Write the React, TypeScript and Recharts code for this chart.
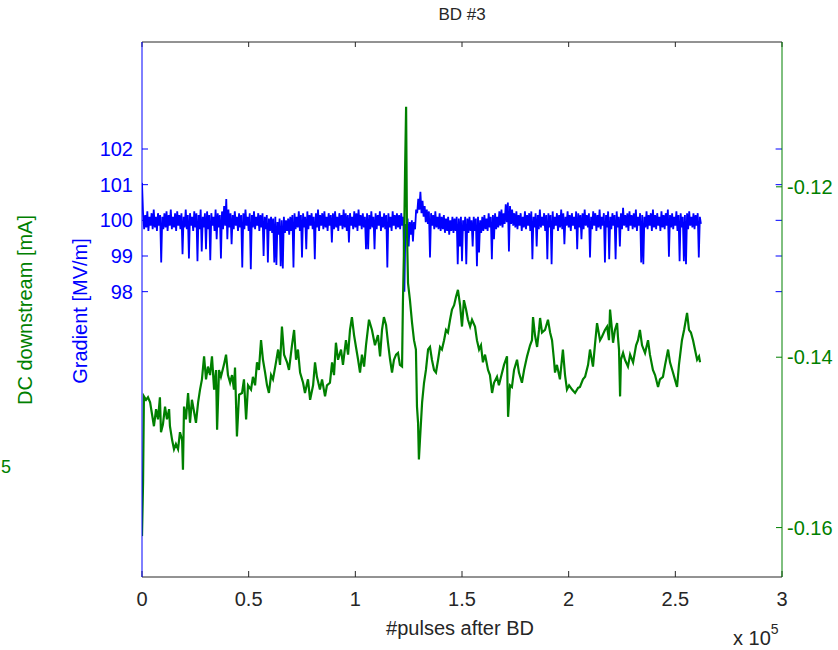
import { LineChart, Line, XAxis, YAxis, Label, ReferenceLine } from "recharts";

const FONT = "'Liberation Sans', Arial, Helvetica, sans-serif";
const INK = "#262626";
const BLUE = "#0000ff";
const GREEN = "#008000";

// x axis in units of 1e5 pulses
const xTicks = [0, 0.5, 1, 1.5, 2, 2.5, 3];
const gradientTicks = [98, 99, 100, 101, 102];
const currentTicks = [-0.16, -0.14, -0.12];

// gradient [MV/m], one sample every 0.005e5 pulses (20 per row = 0.1e5)
const BLUE_DX = 0.005;
const gradient = [
  101.05, 100.2, 99.75, 100.15, 99.8, 100.25, 99.7, 100.1, 99.85, 100.2, 99.75, 100.3, 99.8, 100.1, 99.7, 100.2, 99.85, 100.15, 98.82, 100.1,
  99.75, 100.2, 99.8, 100.25, 99.7, 100.15, 99.85, 100.3, 99.75, 100.1, 99.8, 100.2, 99.7, 100.25, 99.85, 100.15, 99.75, 100.2, 99.05, 100.1,
  99.8, 100.3, 99.75, 100.15, 98.93, 100.2, 99.85, 100.1, 99.7, 100.25, 99.8, 100.2, 98.85, 100.15, 99.75, 100.3, 99.13, 100.1, 99.8, 100.2,
  99.19, 100.25, 99.75, 100.15, 98.88, 100.2, 99.85, 100.1, 99.7, 100.3, 99.47, 100.2, 99.8, 100.15, 98.93, 100.25, 99.75, 100.4, 99.85, 100.6,
  99.47, 100.3, 99.8, 100.2, 99.33, 100.15, 99.75, 100.25, 99.85, 100.1, 99.7, 100.2, 99.8, 100.15, 98.68, 100.2, 99.75, 100.3, 99.85, 100.1,
  99.7, 100.2, 98.63, 100.15, 99.8, 100.25, 99.75, 100.1, 99.85, 100.2, 99.7, 100.15, 99.8, 100.2, 99.0, 100.1, 99.75, 100.15, 98.82, 100.05,
  99.7, 100.1, 99.65, 100.05, 98.82, 100.1, 98.75, 99.95, 99.6, 100.05, 98.71, 100.0, 98.65, 100.1, 99.65, 100.0, 99.7, 100.05, 99.6, 100.1,
  99.7, 100.15, 98.68, 100.2, 99.75, 100.1, 99.8, 100.25, 99.7, 100.15, 98.96, 100.2, 99.8, 100.1, 99.19, 100.25, 99.75, 100.15, 99.85, 100.2,
  99.75, 100.1, 98.91, 100.2, 99.8, 100.3, 99.7, 100.15, 99.85, 100.2, 99.75, 100.25, 99.8, 100.1, 99.7, 100.2, 99.85, 100.15, 99.38, 100.2,
  99.75, 100.25, 99.8, 100.1, 99.7, 100.2, 99.85, 100.15, 99.75, 100.3, 99.8, 100.2, 99.7, 100.15, 99.38, 100.2, 99.85, 100.1, 99.75, 100.25,
  99.8, 100.2, 99.7, 100.3, 99.85, 100.15, 99.75, 100.2, 99.8, 100.1, 99.19, 100.2, 99.19, 100.15, 99.75, 100.25, 99.8, 100.1, 99.19, 100.2,
  99.75, 100.15, 99.85, 100.25, 99.7, 100.1, 99.8, 100.2, 99.75, 100.15, 98.68, 100.2, 99.8, 100.1, 99.7, 100.25, 99.85, 100.15, 99.75, 100.2,
  99.8, 100.15, 99.75, 100.2, 99.85, 100.1, 98.0, 99.9, 99.7, 100.05, 99.27, 99.95, 99.6, 100.0, 99.41, 99.95, 99.75, 100.3, 100.2, 100.6,
  100.3, 100.8, 100.2, 100.55, 100.1, 100.4, 99.95, 100.3, 99.9, 100.25, 98.96, 100.2, 99.85, 100.15, 99.75, 100.25, 99.8, 100.1, 99.75, 100.2,
  99.7, 100.1, 99.75, 100.15, 99.65, 100.05, 99.7, 100.1, 99.6, 100.0, 99.7, 100.1, 99.65, 100.05, 99.7, 100.1, 98.77, 100.05, 99.27, 100.1,
  98.85, 100.0, 99.7, 100.1, 98.77, 100.05, 99.65, 100.1, 99.7, 100.0, 99.27, 100.1, 99.7, 100.05, 98.71, 100.1, 99.1, 100.0, 99.65, 100.1,
  99.7, 100.15, 99.75, 100.05, 99.7, 100.2, 99.8, 100.1, 98.91, 100.15, 99.47, 100.2, 99.75, 100.1, 99.8, 100.25, 99.85, 100.3, 99.8, 100.2,
  99.9, 100.45, 99.95, 100.5, 99.13, 100.4, 99.9, 100.3, 99.85, 100.2, 99.8, 100.25, 99.75, 100.15, 99.85, 100.2, 99.7, 100.1, 99.8, 100.25,
  99.75, 100.15, 99.85, 100.2, 99.7, 100.25, 98.91, 100.1, 99.8, 100.2, 99.27, 100.15, 99.75, 100.3, 99.8, 100.1, 99.85, 100.2, 99.7, 100.15,
  98.91, 100.2, 99.8, 100.15, 98.77, 100.25, 99.75, 100.1, 99.85, 100.2, 99.7, 100.15, 99.8, 100.3, 99.75, 100.2, 99.33, 100.1, 99.85, 100.25,
  99.8, 100.15, 99.7, 100.2, 99.85, 100.1, 99.75, 100.25, 99.19, 100.2, 99.8, 100.15, 99.47, 100.2, 99.75, 100.3, 99.85, 100.15, 99.8, 100.2,
  98.96, 100.1, 99.75, 100.25, 99.85, 100.2, 99.7, 100.15, 99.8, 100.3, 99.75, 100.1, 99.85, 100.2, 98.82, 100.15, 99.8, 100.25, 98.91, 100.1,
  99.75, 100.2, 99.85, 100.15, 98.91, 100.25, 99.8, 100.1, 99.27, 100.2, 99.75, 100.35, 99.85, 100.15, 99.8, 100.2, 99.7, 100.25, 99.85, 100.15,
  99.75, 100.2, 99.8, 100.3, 99.7, 100.1, 99.85, 100.2, 98.82, 100.15, 98.77, 100.1, 99.8, 100.25, 99.75, 100.15, 99.85, 100.2, 99.7, 100.3,
  99.8, 100.15, 99.75, 100.2, 99.85, 100.1, 99.7, 100.25, 99.8, 100.15, 99.75, 100.2, 99.85, 100.3, 98.98, 100.15, 99.8, 100.2, 99.75, 100.1,
  99.85, 100.25, 99.7, 100.15, 98.85, 100.2, 99.8, 100.1, 98.85, 100.15, 98.77, 100.2, 99.75, 100.25, 99.85, 100.1, 99.8, 100.2, 99.75, 100.15,
  99.85, 100.2, 98.96, 100.1, 99.9,
];

// DC downstream [mA]
const currentX = [
  0, 0.005, 0.009, 0.019, 0.028, 0.038, 0.047, 0.056, 0.066, 0.075,
  0.084, 0.089, 0.098, 0.108, 0.117, 0.127, 0.131, 0.141, 0.15, 0.159,
  0.169, 0.178, 0.188, 0.192, 0.197, 0.206, 0.216, 0.225, 0.234, 0.244,
  0.253, 0.263, 0.272, 0.281, 0.291, 0.3, 0.309, 0.319, 0.328, 0.338,
  0.347, 0.352, 0.361, 0.37, 0.384, 0.394, 0.403, 0.413, 0.422, 0.431,
  0.436, 0.445, 0.455, 0.469, 0.478, 0.488, 0.497, 0.511, 0.52, 0.53,
  0.539, 0.548, 0.558, 0.567, 0.577, 0.586, 0.595, 0.605, 0.614, 0.628,
  0.638, 0.647, 0.656, 0.666, 0.68, 0.689, 0.703, 0.713, 0.722, 0.731,
  0.741, 0.755, 0.764, 0.778, 0.788, 0.802, 0.811, 0.82, 0.834, 0.844,
  0.858, 0.867, 0.881, 0.891, 0.9, 0.909, 0.919, 0.933, 0.942, 0.956,
  0.966, 0.975, 0.984, 0.994, 1.003, 1.013, 1.022, 1.031, 1.041, 1.05,
  1.064, 1.078, 1.092, 1.106, 1.116, 1.125, 1.134, 1.144, 1.153, 1.163,
  1.172, 1.181, 1.191, 1.2, 1.209, 1.219, 1.223, 1.228, 1.233, 1.238,
  1.242, 1.247, 1.256, 1.266, 1.275, 1.284, 1.289, 1.294, 1.298, 1.303,
  1.313, 1.322, 1.331, 1.341, 1.35, 1.359, 1.369, 1.378, 1.388, 1.397,
  1.406, 1.416, 1.425, 1.434, 1.444, 1.453, 1.463, 1.472, 1.481, 1.491,
  1.5, 1.509, 1.519, 1.528, 1.538, 1.547, 1.561, 1.57, 1.58, 1.589,
  1.598, 1.608, 1.622, 1.631, 1.641, 1.65, 1.664, 1.673, 1.688, 1.697,
  1.711, 1.716, 1.725, 1.734, 1.744, 1.758, 1.767, 1.781, 1.791, 1.805,
  1.819, 1.828, 1.833, 1.842, 1.852, 1.861, 1.866, 1.875, 1.889, 1.903,
  1.913, 1.922, 1.931, 1.936, 1.945, 1.959, 1.973, 1.983, 1.992, 2.002,
  2.016, 2.03, 2.044, 2.053, 2.067, 2.077, 2.091, 2.1, 2.114, 2.123,
  2.133, 2.147, 2.156, 2.17, 2.18, 2.189, 2.194, 2.203, 2.208, 2.217,
  2.227, 2.231, 2.236, 2.241, 2.245, 2.255, 2.264, 2.278, 2.288, 2.302,
  2.316, 2.325, 2.334, 2.344, 2.358, 2.372, 2.381, 2.395, 2.405, 2.419,
  2.428, 2.442, 2.452, 2.466, 2.475, 2.489, 2.498, 2.508, 2.517, 2.531,
  2.541, 2.555, 2.564, 2.573, 2.583, 2.592, 2.602, 2.611, 2.616,
];
const currentV = [
  -0.161, -0.1547, -0.1446, -0.145, -0.1447, -0.1453, -0.1467, -0.1481, -0.1461, -0.1473,
  -0.1447, -0.1488, -0.1479, -0.1458, -0.1473, -0.1461, -0.1481, -0.1497, -0.1508, -0.1502,
  -0.1508, -0.1488, -0.1497, -0.1532, -0.1458, -0.1473, -0.1442, -0.1477, -0.145, -0.1464,
  -0.1477, -0.1453, -0.1438, -0.1426, -0.1399, -0.1426, -0.1411, -0.1421, -0.1399, -0.1438,
  -0.1415, -0.1485, -0.1415, -0.1423, -0.1409, -0.1397, -0.1421, -0.143, -0.1421, -0.1438,
  -0.1412, -0.1493, -0.1444, -0.1442, -0.1426, -0.1473, -0.1433, -0.1438, -0.1423, -0.1433,
  -0.1406, -0.1415, -0.138, -0.1403, -0.1418, -0.1433, -0.1442, -0.1421, -0.1426, -0.1406,
  -0.1391, -0.1409, -0.1364, -0.1397, -0.1406, -0.1415, -0.1386, -0.1368, -0.1403, -0.1391,
  -0.1418, -0.143, -0.1442, -0.1426, -0.145, -0.1433, -0.1406, -0.1423, -0.1438, -0.1426,
  -0.1446, -0.1433, -0.143, -0.1406, -0.1421, -0.1383, -0.1403, -0.1391, -0.1409, -0.138,
  -0.1397, -0.1368, -0.1353, -0.1374, -0.1388, -0.1403, -0.1418, -0.1397, -0.1411, -0.1386,
  -0.1356, -0.1368, -0.1386, -0.1374, -0.1399, -0.1368, -0.1353, -0.1362, -0.1383, -0.1403,
  -0.1418, -0.1403, -0.1397, -0.1395, -0.1409, -0.1411, -0.1336, -0.1274, -0.1184, -0.1106,
  -0.1251, -0.1313, -0.1333, -0.136, -0.138, -0.1391, -0.1458, -0.1477, -0.152, -0.1497,
  -0.1453, -0.143, -0.1415, -0.1391, -0.1388, -0.1403, -0.1415, -0.1418, -0.1403, -0.1388,
  -0.1391, -0.138, -0.1368, -0.1371, -0.1356, -0.1344, -0.1339, -0.1329, -0.1321, -0.1339,
  -0.1364, -0.1333, -0.1344, -0.1356, -0.1364, -0.1356, -0.1364, -0.138, -0.1391, -0.1386,
  -0.1406, -0.1397, -0.1415, -0.1421, -0.1442, -0.143, -0.1423, -0.1433, -0.1418, -0.1409,
  -0.1399, -0.147, -0.1433, -0.1435, -0.1415, -0.1403, -0.1418, -0.143, -0.1415, -0.1399,
  -0.1386, -0.138, -0.1353, -0.1374, -0.1388, -0.1368, -0.1354, -0.1371, -0.1368, -0.1356,
  -0.1371, -0.138, -0.1403, -0.1418, -0.1409, -0.1426, -0.1391, -0.1421, -0.1438, -0.1433,
  -0.1438, -0.1442, -0.1436, -0.1435, -0.1426, -0.1423, -0.1409, -0.1391, -0.1411, -0.1386,
  -0.136, -0.138, -0.1376, -0.1368, -0.1364, -0.138, -0.1344, -0.1368, -0.1383, -0.1368,
  -0.136, -0.1376, -0.1391, -0.1446, -0.1403, -0.1395, -0.1403, -0.1411, -0.1397, -0.1406,
  -0.1386, -0.138, -0.1368, -0.1386, -0.1395, -0.138, -0.1397, -0.1415, -0.1421, -0.1435,
  -0.1426, -0.1423, -0.1409, -0.1391, -0.1406, -0.1418, -0.1426, -0.1435, -0.1409, -0.138,
  -0.1368, -0.1348, -0.1368, -0.1371, -0.138, -0.1391, -0.1403, -0.1399, -0.1406,
];

const textStyle = { fontFamily: FONT, fontSize: 20 };

export default function App() {
  const gradientData = gradient.map((v, i) => ({ x: Math.round(i * BLUE_DX * 1000) / 1000, v }));
  const currentData = currentX.map((x, i) => ({ x, v: currentV[i] }));

  return (
    <div style={{ position: "absolute", left: 0, top: 0, width: 838, height: 650, background: "#fff" }}>
      <LineChart width={838} height={650} margin={{ top: 12, right: 0, bottom: 0, left: 0 }}>
        <XAxis
          xAxisId="bottom"
          dataKey="x"
          type="number"
          domain={[0, 3]}
          ticks={xTicks}
          interval={0}
          allowDataOverflow
          height={73}
          stroke={INK}
          tickSize={-6}
          tickMargin={21}
          tick={{ fill: INK, fontSize: 20, fontFamily: FONT }}
          tickFormatter={(v) => String(v)}
        >
          <Label
            content={() => (
              <g>
                <text x={460} y={635} textAnchor="middle" fill={INK} style={textStyle}>
                  #pulses after BD
                </text>
                <text x={733} y={645} fill={INK} style={textStyle}>
                  x 10
                  <tspan dy={-11} style={{ fontSize: 14 }}>5</tspan>
                </text>
              </g>
            )}
          />
        </XAxis>
        <XAxis
          xAxisId="top"
          orientation="top"
          dataKey="x"
          type="number"
          domain={[0, 3]}
          ticks={xTicks}
          interval={0}
          allowDataOverflow
          height={30}
          stroke={INK}
          tickSize={-5}
          tickFormatter={() => ""}
        >
          <Label
            content={() => (
              <text x={462} y={20} textAnchor="middle" fill={INK} style={{ ...textStyle, fontSize: 17 }}>
                BD #3
              </text>
            )}
          />
        </XAxis>
        <YAxis
          yAxisId="left"
          type="number"
          domain={[90, 105]}
          ticks={gradientTicks}
          interval={0}
          allowDataOverflow
          width={142}
          stroke={BLUE}
          tickSize={-6}
          tickMargin={15}
          tick={{ fill: BLUE, fontSize: 20, fontFamily: FONT }}
        >
          <Label
            content={() => (
              <g>
                <text
                  x={32}
                  y={310}
                  textAnchor="middle"
                  fill={GREEN}
                  transform="rotate(-90 32 310)"
                  style={textStyle}
                >
                  DC downstream [mA]
                </text>
                <text
                  x={87}
                  y={311}
                  textAnchor="middle"
                  fill={BLUE}
                  transform="rotate(-90 87 311)"
                  style={textStyle}
                >
                  Gradient [MV/m]
                </text>
                <text x={1} y={473} fill={GREEN} style={{ ...textStyle, fontSize: 18 }}>
                  5
                </text>
              </g>
            )}
          />
        </YAxis>
        <YAxis
          yAxisId="right"
          orientation="right"
          type="number"
          domain={[-0.1658, -0.103]}
          ticks={currentTicks}
          interval={0}
          allowDataOverflow
          width={56}
          stroke={GREEN}
          tickSize={-6}
          tickMargin={11}
          tick={{ fill: GREEN, fontSize: 20, fontFamily: FONT }}
          tickFormatter={(v) => v.toFixed(2)}
        />
        {/* gradient ticks repeated on the right-hand border */}
        {gradientTicks.map((t) => (
          <ReferenceLine
            key={t}
            xAxisId="bottom"
            yAxisId="left"
            segment={[
              { x: 3, y: t },
              { x: 2.97, y: t },
            ]}
            stroke={BLUE}
            strokeWidth={1}
          />
        ))}
        <Line
          data={gradientData}
          xAxisId="bottom"
          yAxisId="left"
          dataKey="v"
          type="linear"
          stroke={BLUE}
          strokeWidth={1.8}
          dot={false}
          isAnimationActive={false}
        />
        <Line
          data={currentData}
          xAxisId="bottom"
          yAxisId="right"
          dataKey="v"
          type="linear"
          stroke={GREEN}
          strokeWidth={2.2}
          dot={false}
          isAnimationActive={false}
        />
      </LineChart>
    </div>
  );
}
